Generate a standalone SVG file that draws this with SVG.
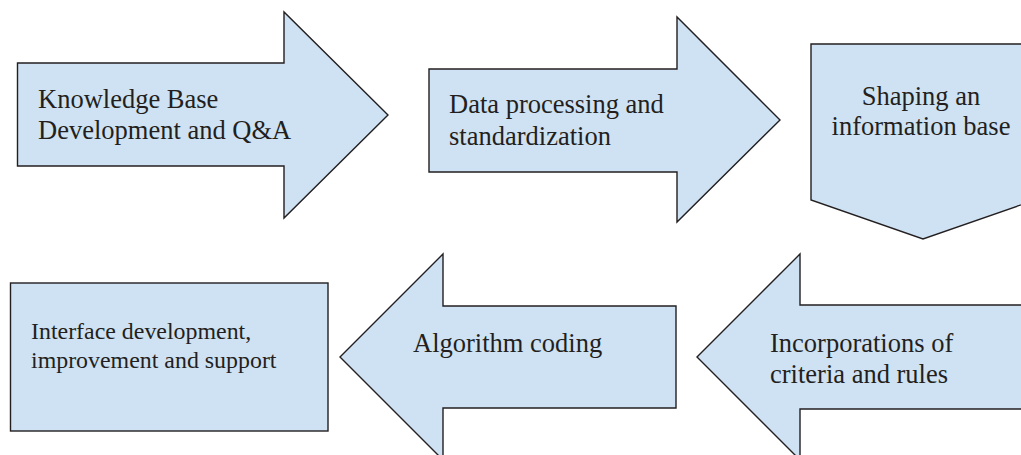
<svg xmlns="http://www.w3.org/2000/svg" width="1021" height="455" viewBox="0 0 1021 455">
<style>
.s{fill:#cfe2f3;stroke:#231f20;stroke-width:1.4;stroke-linejoin:miter}
.t{font-family:"Liberation Serif","Times New Roman",serif;font-size:26.5px;fill:#231f20}
.m{text-anchor:middle}
.sm{font-size:23.9px}
</style>
<rect width="1021" height="455" fill="#ffffff"/>
<g id="n1"><polygon class="s" points="17.5,63 284,63 284,12 388,115 284,218 284,166 17.5,166"/>
<text class="t" x="38" y="108">Knowledge Base</text><text class="t" x="38" y="139">Development and Q&amp;A</text></g>
<g id="n2"><polygon class="s" points="429,69 677,69 677,17 780,120 677,222 677,172 429,172"/>
<text class="t" x="449" y="113">Data processing and</text><text class="t" x="449" y="145">standardization</text></g>
<g id="n3"><polygon class="s" points="811,44 1035,44 1035,200 923,239 811,200"/>
<text class="t m" x="921" y="105">Shaping an</text><text class="t m" x="921" y="135">information base</text></g>
<g id="n4"><rect class="s" x="10.5" y="283" width="317.5" height="148"/>
<text class="t sm" x="31" y="339">Interface development,</text><text class="t sm" x="31" y="368">improvement and support</text></g>
<g id="n5"><polygon class="s" points="676,306 676,408 443,408 443,460 340,357 443,254 443,306"/>
<text class="t" x="413" y="352">Algorithm coding</text></g>
<g id="n6"><polygon class="s" points="1030,305 1030,409 800,409 800,460 697,357 800,254 800,305"/>
<text class="t" x="770" y="352">Incorporations of</text><text class="t" x="770" y="383">criteria and rules</text></g>
<g id="connectors"></g>
</svg>
